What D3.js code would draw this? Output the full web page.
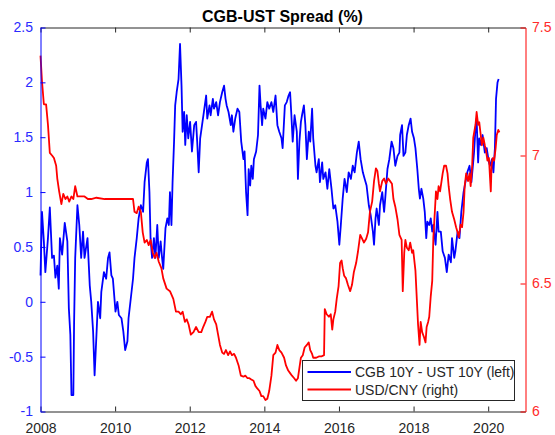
<!DOCTYPE html>
<html>
<head>
<meta charset="utf-8">
<script src="https://cdn.jsdelivr.net/npm/d3@7"></script>
<style>
  body { margin: 0; background: #fff; }
  svg { display: block; font-family: "Liberation Sans", Arial, Helvetica, sans-serif; }
</style>
</head>
<body>
<svg id="chart" width="555" height="435"></svg>
<script>
// CGB 10Y - UST 10Y spread (left axis, %), decimal years
var spreadYears = [
  2008.00, 2008.04, 2008.09, 2008.13, 2008.20, 2008.25, 2008.31, 2008.36, 2008.40, 2008.45,
  2008.49, 2008.52, 2008.58, 2008.65, 2008.72, 2008.76, 2008.80, 2008.83, 2008.88, 2008.90,
  2008.93, 2008.99, 2009.04, 2009.09, 2009.14, 2009.18, 2009.26, 2009.32, 2009.36, 2009.41,
  2009.45, 2009.50, 2009.54, 2009.60, 2009.63, 2009.70, 2009.76, 2009.81, 2009.85, 2009.90,
  2009.94, 2010.01, 2010.06, 2010.10, 2010.17, 2010.22, 2010.27, 2010.33, 2010.36, 2010.42,
  2010.48, 2010.52, 2010.58, 2010.63, 2010.69, 2010.75, 2010.79, 2010.85, 2010.88, 2010.92,
  2010.95, 2010.99, 2011.04, 2011.08, 2011.13, 2011.17, 2011.22, 2011.25, 2011.29, 2011.35,
  2011.40, 2011.44, 2011.47, 2011.51, 2011.54, 2011.58, 2011.61, 2011.65, 2011.70, 2011.74,
  2011.78, 2011.81, 2011.85, 2011.88, 2011.92, 2011.96, 2012.01, 2012.06, 2012.12, 2012.17,
  2012.20, 2012.24, 2012.28, 2012.33, 2012.38, 2012.44, 2012.47, 2012.53, 2012.56, 2012.62,
  2012.65, 2012.71, 2012.76, 2012.81, 2012.87, 2012.92, 2012.96, 2012.99, 2013.04, 2013.10,
  2013.13, 2013.17, 2013.22, 2013.28, 2013.33, 2013.38, 2013.44, 2013.47, 2013.51, 2013.55,
  2013.58, 2013.62, 2013.65, 2013.69, 2013.72, 2013.78, 2013.83, 2013.87, 2013.90, 2013.94,
  2013.97, 2014.03, 2014.08, 2014.13, 2014.19, 2014.24, 2014.30, 2014.35, 2014.40, 2014.46,
  2014.49, 2014.55, 2014.60, 2014.65, 2014.69, 2014.72, 2014.76, 2014.81, 2014.87, 2014.90,
  2014.94, 2014.98, 2015.01, 2015.06, 2015.10, 2015.14, 2015.19, 2015.23, 2015.28, 2015.31,
  2015.37, 2015.40, 2015.46, 2015.49, 2015.55, 2015.58, 2015.64, 2015.69, 2015.74, 2015.80,
  2015.85, 2015.90, 2015.96, 2016.01, 2016.05, 2016.10, 2016.15, 2016.21, 2016.26, 2016.32,
  2016.37, 2016.42, 2016.48, 2016.53, 2016.58, 2016.64, 2016.69, 2016.74, 2016.80, 2016.85,
  2016.91, 2016.94, 2016.98, 2017.01, 2017.07, 2017.10, 2017.16, 2017.21, 2017.24, 2017.30,
  2017.35, 2017.41, 2017.46, 2017.51, 2017.57, 2017.62, 2017.64, 2017.69, 2017.73, 2017.78,
  2017.82, 2017.87, 2017.92, 2017.96, 2018.01, 2018.05, 2018.10, 2018.14, 2018.17, 2018.21,
  2018.26, 2018.30, 2018.34, 2018.37, 2018.42, 2018.46, 2018.50, 2018.53, 2018.59, 2018.64,
  2018.67, 2018.73, 2018.78, 2018.84, 2018.89, 2018.94, 2019.00, 2019.03, 2019.09, 2019.12,
  2019.18, 2019.23, 2019.28, 2019.34, 2019.39, 2019.44, 2019.50, 2019.55, 2019.59, 2019.62,
  2019.66, 2019.69, 2019.73, 2019.76, 2019.80, 2019.85, 2019.91, 2019.96, 2020.02, 2020.05,
  2020.10, 2020.14, 2020.18, 2020.21, 2020.25, 2020.28
];
var spreadValues = [
  0.24, 0.82, 0.55, 0.27, 0.58, 0.86, 0.40, 0.42, 0.22, 0.33,
  0.12, 0.58, 0.43, 0.72, 0.55, -0.06, -0.30, -0.85, -0.85, -0.20,
  0.40, 0.88, 0.70, 0.40, 0.64, 0.40, 0.58, 0.15, 0.00, -0.27,
  -0.67, -0.30, 0.00, -0.15, 0.09, 0.27, 0.21, 0.40, 0.45, 0.24,
  0.21, -0.09, 0.00, -0.12, -0.15, -0.27, -0.44, -0.36, -0.15, 0.03,
  0.21, 0.40, 0.58, 0.76, 0.88, 0.82, 1.09, 1.27, 1.30, 1.00,
  0.58, 0.40, 0.58, 0.40, 0.70, 0.40, 0.55, 0.43, 0.30, 0.67,
  0.76, 0.70, 1.00, 0.70, 1.09, 1.46, 1.79, 1.91, 2.03, 2.35,
  1.97, 1.55, 1.73, 1.43, 1.70, 1.49, 1.64, 1.37, 1.61, 1.64,
  1.46, 1.18, 1.49, 1.61, 1.73, 1.88, 1.67, 1.79, 1.70, 1.85,
  1.76, 1.82, 1.70, 1.82, 1.91, 1.97, 1.85, 1.79, 1.73, 1.61,
  1.70, 1.55, 1.67, 1.76, 1.73, 1.46, 1.30, 1.37, 1.00, 0.79,
  1.21, 1.06, 1.24, 1.12, 1.30, 1.37, 1.52, 1.97, 1.79, 1.61,
  1.76, 1.67, 1.82, 1.76, 1.82, 1.73, 1.88, 1.61, 1.55, 1.49,
  1.40, 1.79, 1.82, 1.88, 1.91, 1.73, 1.46, 1.70, 1.55, 1.12,
  1.46, 1.64, 1.70, 1.79, 1.61, 1.30, 1.55, 1.46, 1.76, 1.49,
  1.24, 1.18, 1.30, 1.09, 1.27, 1.12, 1.18, 1.03, 1.21, 1.03,
  0.85, 0.88, 0.73, 0.52, 0.70, 0.94, 1.12, 1.00, 1.18, 1.12,
  1.24, 1.18, 1.36, 1.46, 1.30, 1.18, 1.12, 1.06, 0.88, 0.79,
  0.64, 0.52, 0.76, 0.85, 0.70, 0.88, 1.00, 0.82, 0.94, 1.21,
  1.30, 1.46, 1.40, 1.24, 1.33, 1.36, 1.52, 1.61, 1.33, 1.36,
  1.52, 1.61, 1.67, 1.55, 1.49, 1.40, 1.21, 1.03, 0.94, 1.03,
  0.94, 0.82, 0.58, 0.73, 0.70, 0.76, 0.64, 0.70, 0.52, 0.82,
  0.64, 0.64, 0.46, 0.40, 0.27, 0.43, 0.36, 0.58, 0.40, 0.46,
  0.64, 0.58, 0.82, 1.00, 1.09, 1.18, 1.24, 1.09, 1.24, 1.36,
  1.58, 1.67, 1.27, 1.49, 1.43, 1.52, 1.36, 1.40, 1.27, 1.24,
  1.30, 1.18, 1.40, 1.85, 2.00, 2.03
];

// USD/CNY (right axis), decimal years
var fxYears = [
  2008.00, 2008.04, 2008.09, 2008.15, 2008.20, 2008.25, 2008.31, 2008.36, 2008.42, 2008.45,
  2008.50, 2008.56, 2008.61, 2008.67, 2008.72, 2008.77, 2008.83, 2008.88, 2008.93, 2008.99,
  2009.04, 2009.09, 2009.18, 2009.27, 2009.36, 2009.50, 2009.72, 2009.99, 2010.26, 2010.44,
  2010.48, 2010.52, 2010.58, 2010.63, 2010.69, 2010.74, 2010.79, 2010.85, 2010.90, 2010.95,
  2011.01, 2011.06, 2011.11, 2011.17, 2011.24, 2011.29, 2011.38, 2011.47, 2011.56, 2011.63,
  2011.70, 2011.76, 2011.81, 2011.87, 2011.92, 2011.97, 2012.03, 2012.10, 2012.17, 2012.24,
  2012.31, 2012.36, 2012.42, 2012.47, 2012.54, 2012.60, 2012.65, 2012.71, 2012.76, 2012.81,
  2012.87, 2012.92, 2012.97, 2013.03, 2013.08, 2013.13, 2013.19, 2013.24, 2013.31, 2013.37,
  2013.44, 2013.49, 2013.55, 2013.60, 2013.65, 2013.71, 2013.76, 2013.81, 2013.87, 2013.92,
  2013.97, 2014.03, 2014.08, 2014.13, 2014.19, 2014.24, 2014.30, 2014.35, 2014.40, 2014.46,
  2014.53, 2014.58, 2014.64, 2014.69, 2014.74, 2014.80, 2014.85, 2014.90, 2014.94, 2014.98,
  2015.03, 2015.08, 2015.14, 2015.19, 2015.23, 2015.28, 2015.31, 2015.39, 2015.46, 2015.53,
  2015.60, 2015.62, 2015.67, 2015.73, 2015.78, 2015.82, 2015.85, 2015.90, 2015.94, 2015.99,
  2016.03, 2016.07, 2016.10, 2016.14, 2016.19, 2016.24, 2016.30, 2016.35, 2016.40, 2016.46,
  2016.51, 2016.57, 2016.62, 2016.67, 2016.73, 2016.78, 2016.83, 2016.89, 2016.94, 2016.99,
  2017.03, 2017.07, 2017.10, 2017.16, 2017.21, 2017.26, 2017.32, 2017.37, 2017.42, 2017.46,
  2017.51, 2017.57, 2017.62, 2017.68, 2017.71, 2017.75, 2017.78, 2017.82, 2017.87, 2017.91,
  2017.96, 2017.99, 2018.05, 2018.09, 2018.12, 2018.16, 2018.19, 2018.23, 2018.28, 2018.32,
  2018.35, 2018.39, 2018.42, 2018.46, 2018.50, 2018.53, 2018.57, 2018.60, 2018.64, 2018.67,
  2018.71, 2018.75, 2018.78, 2018.82, 2018.87, 2018.91, 2018.94, 2018.98, 2019.03, 2019.09,
  2019.14, 2019.18, 2019.21, 2019.26, 2019.30, 2019.34, 2019.37, 2019.41, 2019.46, 2019.50,
  2019.53, 2019.57, 2019.60, 2019.66, 2019.69, 2019.73, 2019.76, 2019.80, 2019.83, 2019.87,
  2019.91, 2019.94, 2019.98, 2020.02, 2020.05, 2020.07, 2020.09, 2020.12, 2020.16, 2020.20,
  2020.23, 2020.27, 2020.30
];
var fxValues = [
  7.39, 7.29, 7.20, 7.20, 7.12, 7.01, 7.00, 6.99, 6.96, 6.91,
  6.86, 6.81, 6.85, 6.83, 6.84, 6.82, 6.84, 6.83, 6.88, 6.84,
  6.84, 6.84, 6.84, 6.83, 6.83, 6.835, 6.83, 6.83, 6.83, 6.83,
  6.83, 6.78, 6.775, 6.80, 6.78, 6.70, 6.66, 6.67, 6.65, 6.67,
  6.62, 6.60, 6.62, 6.585, 6.56, 6.52, 6.48, 6.47, 6.44, 6.39,
  6.39, 6.38, 6.39, 6.35, 6.36, 6.34, 6.30, 6.31, 6.33, 6.31,
  6.31, 6.33, 6.35, 6.37, 6.37, 6.39, 6.36, 6.34, 6.30, 6.26,
  6.23, 6.225, 6.24, 6.22, 6.235, 6.22, 6.225, 6.21, 6.18, 6.14,
  6.136, 6.14, 6.13, 6.13, 6.125, 6.12, 6.10, 6.09, 6.08, 6.06,
  6.06, 6.045, 6.05, 6.08, 6.14, 6.22, 6.23, 6.26, 6.24, 6.23,
  6.21, 6.18, 6.16, 6.15, 6.14, 6.13, 6.12, 6.13, 6.17, 6.21,
  6.22, 6.25, 6.26, 6.27, 6.24, 6.225, 6.21, 6.21, 6.215, 6.215,
  6.22, 6.40, 6.38, 6.37, 6.38, 6.32, 6.36, 6.39, 6.44, 6.49,
  6.58, 6.59, 6.56, 6.53, 6.52, 6.495, 6.47, 6.495, 6.545, 6.58,
  6.625, 6.69, 6.675, 6.66, 6.675, 6.70, 6.78, 6.82, 6.90, 6.95,
  6.94, 6.89, 6.86, 6.90, 6.91, 6.89, 6.91, 6.90, 6.89, 6.83,
  6.80, 6.75, 6.69, 6.67, 6.47, 6.62, 6.67, 6.64, 6.63, 6.66,
  6.62, 6.63, 6.55, 6.43, 6.34, 6.26, 6.35, 6.31, 6.29, 6.27,
  6.33, 6.35, 6.37, 6.45, 6.51, 6.68, 6.78, 6.86, 6.83, 6.88,
  6.86, 6.90, 6.93, 6.96, 6.96, 6.93, 6.88, 6.83, 6.78, 6.75,
  6.72, 6.70, 6.68, 6.73, 6.72, 6.78, 6.88, 6.93, 6.90, 6.93,
  6.88, 6.96, 7.07, 7.12, 7.17, 7.12, 7.13, 7.08, 7.04, 7.07,
  7.04, 7.02, 6.98, 6.99, 6.91, 6.86, 6.96, 6.99, 6.98, 7.03,
  7.08, 7.10, 7.09
];

var xTicks = [2008, 2010, 2012, 2014, 2016, 2018, 2020];
var leftTicks = [-1, -0.5, 0, 0.5, 1, 1.5, 2, 2.5];
var rightTicks = [6, 6.5, 7, 7.5];
var titleText = "CGB-UST Spread (%)";
var legendLabels = ["CGB 10Y - UST 10Y (left)", "USD/CNY (right)"];

var BLUE = "#0000ff", RED = "#ff0000", AXIS = "#262626";

var svg = d3.select("#chart");
var plot = { left: 40.5, right: 525.5, top: 27.5, bottom: 411.5 };

var x = d3.scaleLinear().domain([2008, 2021]).range([plot.left, plot.right]);
var yL = d3.scaleLinear().domain([-1, 2.5]).range([plot.bottom, plot.top]);
var yR = d3.scaleLinear().domain([6, 7.5]).range([plot.bottom, plot.top]);

var fmt = function (d) { return String(d); };

// x axes (bottom with labels, top only ticks)
var bottomAxis = d3.axisBottom(x).tickValues(xTicks).tickFormat(fmt)
  .tickSizeInner(-5).tickSizeOuter(0).tickPadding(11.5);
var gB = svg.append("g").attr("transform", "translate(0," + plot.bottom + ")").call(bottomAxis);

var topAxis = d3.axisTop(x).tickValues(xTicks).tickFormat("")
  .tickSizeInner(-5).tickSizeOuter(0);
var gT = svg.append("g").attr("transform", "translate(0," + plot.top + ")").call(topAxis);

[gB, gT].forEach(function (g) {
  g.select(".domain").attr("stroke", AXIS);
  g.selectAll(".tick line").attr("stroke", AXIS);
  g.selectAll(".tick text").attr("fill", AXIS).style("font-size", "14px");
});

// lines (blue first, red on top)
var spreadData = spreadYears.map(function (d, i) { return [d, spreadValues[i]]; });
var fxData = fxYears.map(function (d, i) { return [d, fxValues[i]]; });

svg.append("path").datum(spreadData)
  .attr("fill", "none").attr("stroke", BLUE).attr("stroke-width", 1.8)
  .attr("stroke-linejoin", "round")
  .attr("d", d3.line().x(function (d) { return x(d[0]); }).y(function (d) { return yL(d[1]); }));

svg.append("path").datum(fxData)
  .attr("fill", "none").attr("stroke", RED).attr("stroke-width", 1.8)
  .attr("stroke-linejoin", "round")
  .attr("d", d3.line().x(function (d) { return x(d[0]); }).y(function (d) { return yR(d[1]); }));

// y axes
var leftAxis = d3.axisLeft(yL).tickValues(leftTicks).tickFormat(fmt)
  .tickSizeInner(-5).tickSizeOuter(0).tickPadding(7.5);
var gL = svg.append("g").attr("transform", "translate(" + plot.left + ",0)").call(leftAxis);
gL.select(".domain").attr("stroke", BLUE);
gL.selectAll(".tick line").attr("stroke", BLUE);
gL.selectAll(".tick text").attr("fill", "#2a2aff").style("font-size", "14px");

var rightAxis = d3.axisRight(yR).tickValues(rightTicks).tickFormat(fmt)
  .tickSizeInner(-5).tickSizeOuter(0).tickPadding(6.5);
var gR = svg.append("g").attr("transform", "translate(" + plot.right + ",0)").call(rightAxis);
gR.select(".domain").attr("stroke", RED);
gR.selectAll(".tick line").attr("stroke", RED);
gR.selectAll(".tick text").attr("fill", "#ff2a2a").style("font-size", "14px");

// title
svg.append("text")
  .attr("x", 282.5).attr("y", 21.5)
  .attr("text-anchor", "middle")
  .attr("fill", "#000")
  .style("font-size", "16px").style("font-weight", "bold")
  .text(titleText);

// legend
var legend = svg.append("g");
legend.append("rect")
  .attr("x", 302.5).attr("y", 360.5).attr("width", 212).attr("height", 40)
  .attr("fill", "#fff").attr("stroke", AXIS).attr("stroke-width", 1);
[BLUE, RED].forEach(function (c, i) {
  var ly = 372 + i * 17.5;
  legend.append("line")
    .attr("x1", 307.5).attr("x2", 351).attr("y1", ly).attr("y2", ly)
    .attr("stroke", c).attr("stroke-width", 1.8);
  legend.append("text")
    .attr("x", 355).attr("y", ly + 5)
    .attr("fill", AXIS).style("font-size", "14px")
    .text(legendLabels[i]);
});
</script>
</body>
</html>
